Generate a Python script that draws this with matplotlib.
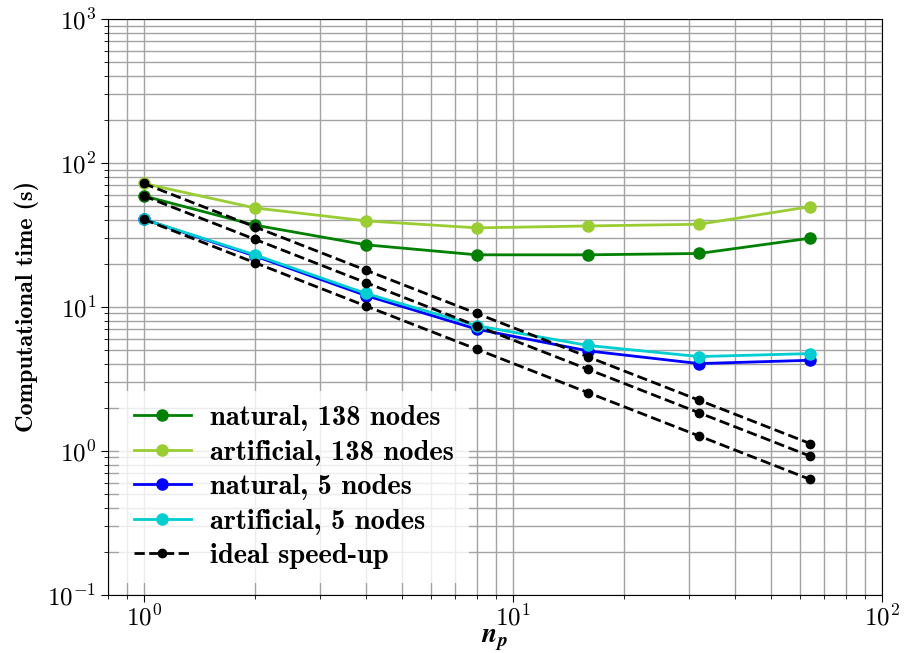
import numpy as np
import matplotlib
matplotlib.use('Agg')
import matplotlib.pyplot as plt
from matplotlib.ticker import FuncFormatter, LogLocator

plt.rcParams['mathtext.fontset'] = 'cm'
plt.rcParams['axes.formatter.use_mathtext'] = True

n_p = [1, 2, 4, 8, 16, 32, 64]

natural_138 = [59, 37, 27, 23, 23, 23.5, 30]
artificial_138 = [72, 48.7, 39.6, 35.4, 36.5, 37.5, 49.7]
natural_5 = [40.6, 22.6, 12.0, 7.0, 4.95, 4.04, 4.26]
artificial_5 = [40.6, 23.0, 12.4, 7.4, 5.4, 4.52, 4.74]

# ideal speed-up curves, t(1)/n_p for each start value
ideal_72 = [72, 36, 18, 9, 4.5, 2.25, 1.125]
ideal_59 = [59, 29.5, 14.75, 7.375, 3.69, 1.84, 0.92]
ideal_41 = [40.6, 20.3, 10.15, 5.08, 2.54, 1.27, 0.634]

fig, ax = plt.subplots(figsize=(9.07, 6.53), dpi=100)
fig.subplots_adjust(left=0.119, right=0.972, top=0.971, bottom=0.089)

ax.loglog(n_p, natural_138, 'o-', color='green', lw=2, ms=8, label='natural, 138 nodes')
ax.loglog(n_p, artificial_138, 'o-', color='yellowgreen', lw=2, ms=8, label='artificial, 138 nodes')
ax.loglog(n_p, natural_5, 'o-', color='blue', lw=2, ms=8, label='natural, 5 nodes')
ax.loglog(n_p, artificial_5, 'o-', color='darkturquoise', lw=2, ms=8, label='artificial, 5 nodes')
ax.loglog(n_p, ideal_72, 'o--', color='black', lw=2, ms=6, label='ideal speed-up')
ax.loglog(n_p, ideal_59, 'o--', color='black', lw=2, ms=6)
ax.loglog(n_p, ideal_41, 'o--', color='black', lw=2, ms=6)

ax.set_xlim(0.8, 100)
ax.set_ylim(0.1, 1000)
ax.yaxis.set_major_locator(LogLocator(base=10, numticks=10))
ax.yaxis.set_minor_locator(LogLocator(base=10, subs=np.arange(2, 10), numticks=20))
ax.xaxis.set_major_formatter(FuncFormatter(lambda v, p: r'$10^{%d}$' % round(np.log10(v))))
ax.yaxis.set_major_formatter(FuncFormatter(lambda v, p: r'$\mathbf{10^{%d}}$' % round(np.log10(v))))
ax.tick_params(which='major', labelsize=18, length=5)
ax.tick_params(which='minor', length=3)
ax.tick_params(axis='x', pad=2)

ax.grid(True, which='both', color='#a3a3a3', lw=1)
ax.set_axisbelow(True)

ax.set_ylabel('Computational time (s)', fontsize=17.5, family='cmb10', labelpad=6)
ax.set_xlabel(r'$\mathbfit{n}_{\mathbfit{p}}$', fontsize=20, labelpad=-4)

ax.legend(loc='lower left', prop={'family': 'cmb10', 'size': 20.5},
          frameon=True, edgecolor='none', framealpha=0.8, fancybox=False,
          handlelength=2.0, handletextpad=0.7, labelspacing=0.3,
          borderpad=0.5, borderaxespad=0.4)

fig.savefig('out.png', dpi=100)
